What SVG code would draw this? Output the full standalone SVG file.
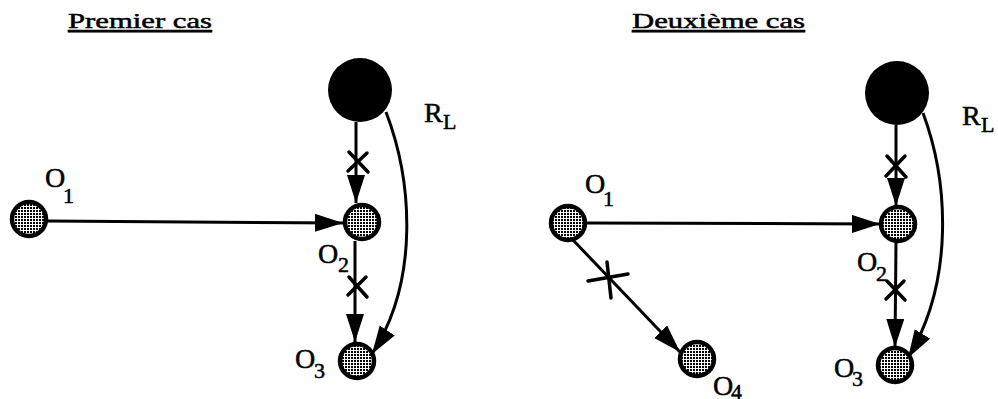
<svg xmlns="http://www.w3.org/2000/svg" width="998" height="399" viewBox="0 0 998 399">
<style>
.t{font-family:"Liberation Serif","Times New Roman",serif;fill:#000;stroke:#000;stroke-width:0.5}
.title{font-size:22px;text-decoration:underline}
.o{font-size:28px}
.s{font-size:22px}
.node{fill:url(#dots);stroke:#000;stroke-width:4.5}
.big{fill:#000}
.e{fill:none;stroke:#000;stroke-width:3;marker-end:url(#ah)}
.x{fill:none;stroke:#000;stroke-width:3.5;stroke-linecap:round}
</style>
<defs>
<pattern id="dots" patternUnits="userSpaceOnUse" width="3" height="3">
<rect width="3" height="3" fill="#fff"/>
<rect x="0" y="0" width="2" height="2" fill="#000"/>
</pattern>
<marker id="ah" markerUnits="userSpaceOnUse" markerWidth="30" markerHeight="20" refX="28" refY="9" orient="auto">
<path d="M0,0 L28,9 L0,18 Z" fill="#000"/>
</marker>
</defs>

<text class="t title" x="68" y="28" textLength="144" lengthAdjust="spacingAndGlyphs">Premier cas</text>
<text class="t title" x="632" y="28" textLength="173" lengthAdjust="spacingAndGlyphs">Deuxième cas</text>

<g id="connectors">
<path class="e" d="M48 221 L343 223"/>
<path class="e" d="M356 122 L356 203"/>
<path class="e" d="M355 241 L355 342"/>
<path class="e" d="M386 112 C412 180 420 280 372 354"/>
<path class="x" d="M349 152 L368 172 M367 153 L348 171"/>
<path class="x" d="M349 277 L367 297 M366 277 L348 295"/>

<path class="e" d="M587 223 L880 224"/>
<path class="e" d="M896 125 L896 206"/>
<path class="e" d="M896 242 L895 347"/>
<path class="e" d="M923 113 C948 180 955 280 908 358"/>
<path class="e" d="M573 240 L680 352"/>
<path class="x" d="M887 156 L906 177 M905 156 L886 176"/>
<path class="x" d="M887 281 L905 300 M904 281 L886 299"/>
<path class="x" d="M588 281 L628 274 M607 262 L611 298"/>
</g>

<g id="RL1"><circle class="big" cx="360" cy="90" r="32"/><text class="t o" x="424" y="122" font-size="27">R</text><text class="t s" x="443" y="129">L</text></g>
<g id="O1a"><circle class="node" cx="29" cy="219" r="17"/><text class="t o" x="45" y="187">O</text><text class="t s" x="63" y="203">1</text></g>
<g id="O2a"><circle class="node" cx="362" cy="222" r="17"/><text class="t o" x="318" y="263">O</text><text class="t s" x="338" y="272">2</text></g>
<g id="O3a"><circle class="node" cx="357" cy="361" r="17"/><text class="t o" x="295" y="368">O</text><text class="t s" x="314" y="378">3</text></g>

<g id="RL2"><circle class="big" cx="897" cy="93" r="32"/><text class="t o" x="962" y="125" font-size="27">R</text><text class="t s" x="981" y="132">L</text></g>
<g id="O1b"><circle class="node" cx="568" cy="223" r="17"/><text class="t o" x="585" y="193">O</text><text class="t s" x="603" y="206">1</text></g>
<g id="O2b"><circle class="node" cx="898" cy="224" r="17"/><text class="t o" x="857" y="271">O</text><text class="t s" x="876" y="281">2</text></g>
<g id="O3b"><circle class="node" cx="895" cy="365" r="17"/><text class="t o" x="834" y="377">O</text><text class="t s" x="852" y="386">3</text></g>
<g id="O4"><circle class="node" cx="697" cy="359" r="17"/><text class="t o" x="713" y="395">O</text><text class="t s" x="731" y="399">4</text></g>
</svg>
